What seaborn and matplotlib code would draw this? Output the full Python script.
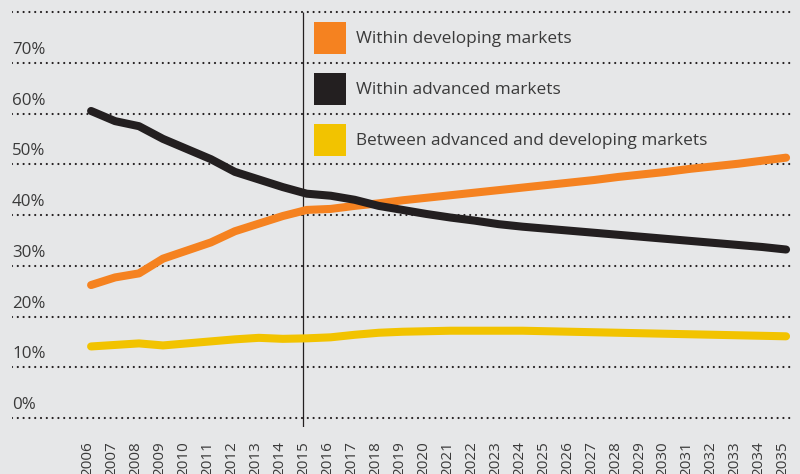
import pandas as pd
import matplotlib.pyplot as plt
import seaborn as sns
from matplotlib.patches import Patch
from matplotlib import transforms

years = list(range(2006, 2036))

within_developing = [26.2, 27.7, 28.5, 31.4, 33.0, 34.6, 36.8, 38.3, 39.8, 41.0,
                     41.2, 41.8, 42.3, 42.9, 43.4, 43.9, 44.4, 44.9, 45.4, 45.9,
                     46.4, 46.9, 47.5, 48.0, 48.5, 49.1, 49.6, 50.1, 50.7, 51.3]
within_advanced = [60.5, 58.5, 57.5, 55.0, 53.0, 51.0, 48.5, 47.0, 45.5, 44.2,
                   43.8, 43.0, 41.8, 41.0, 40.2, 39.5, 38.9, 38.2, 37.7, 37.3,
                   36.9, 36.5, 36.1, 35.7, 35.3, 34.9, 34.5, 34.1, 33.7, 33.2]
between_markets = [14.1, 14.4, 14.7, 14.3, 14.7, 15.1, 15.5, 15.8, 15.6, 15.7,
                   15.9, 16.4, 16.8, 17.0, 17.1, 17.2, 17.2, 17.2, 17.2, 17.1,
                   17.0, 16.9, 16.8, 16.7, 16.6, 16.5, 16.4, 16.3, 16.2, 16.1]

series_names = ["Within developing markets", "Within advanced markets",
                "Between advanced and developing markets"]
series_colors = ["#f58220", "#231f20", "#f2c300"]
y_ticks = [0, 10, 20, 30, 40, 50, 60, 70, 80]
y_labels = ["0%", "10%", "20%", "30%", "40%", "50%", "60%", "70%", ""]
marker_year = 2015

df = pd.DataFrame({
    "year": years * 3,
    "value": within_developing + within_advanced + between_markets,
    "series": [series_names[0]] * 30 + [series_names[1]] * 30 + [series_names[2]] * 30,
})

sns.set_style("white")
plt.rcParams['font.family'] = ['Open Sans', 'DejaVu Sans']
text_color = "#3a3a3a"
bg = "#e6e7e8"

fig = plt.figure(figsize=(8, 4.74), dpi=100, facecolor=bg)
# axes placed in pixel terms: x 12..793, y 5..427
ax = fig.add_axes([12 / 800, 1 - 427 / 474, 781 / 800, 422 / 474])
ax.set_facecolor(bg)

sns.lineplot(data=df, x="year", y="value", hue="series", hue_order=series_names,
             palette=series_colors, linewidth=5.8, solid_capstyle="round",
             legend=False, ax=ax, zorder=3)

ax.set_xlim(2002.70, 2035.29)
ax.set_ylim(-1.77, 81.38)

# dotted gridlines
for v in y_ticks:
    ax.axhline(v, color="#231f20", linewidth=1.6, linestyle=(0, (0.01, 2.6)),
               dash_capstyle="round", zorder=1)

# y labels sit above the lines
offset = transforms.offset_copy(ax.get_yaxis_transform(), fig=fig, x=0, y=5, units="dots")
for v, lab in zip(y_ticks, y_labels):
    ax.text(0, v, lab, transform=offset, ha="left", va="bottom",
            fontsize=12.2, color=text_color)

# the 2015 marker line sits a touch left of the data point in the original
ax.vlines(marker_year - 0.15, -1.77, 80, color="#231f20", linewidth=0.9, zorder=2)

ax.set_yticks([])
ax.set_xticks(years)
ax.set_xticklabels([str(y) for y in years], rotation=90, fontsize=11, color=text_color)
ax.tick_params(axis="x", length=0, pad=10)
shift = transforms.ScaledTranslation(-3 / 100, 0, fig.dpi_scale_trans)
for lab in ax.get_xticklabels():
    lab.set_transform(lab.get_transform() + shift)
ax.set_xlabel("")
ax.set_ylabel("")
for s in ax.spines.values():
    s.set_visible(False)

handles = [Patch(facecolor=c, edgecolor="none") for c in series_colors]
leg = ax.legend(handles, series_names, loc="upper left",
                bbox_to_anchor=(314 / 800, 1 - 22 / 474), bbox_transform=fig.transFigure,
                frameon=False, fontsize=12.4, handlelength=1.86, handleheight=2.49,
                handletextpad=0.58, labelspacing=1.1, borderpad=0, borderaxespad=0)
for t in leg.get_texts():
    t.set_color(text_color)

fig.savefig("out.png", dpi=100, facecolor=bg)
